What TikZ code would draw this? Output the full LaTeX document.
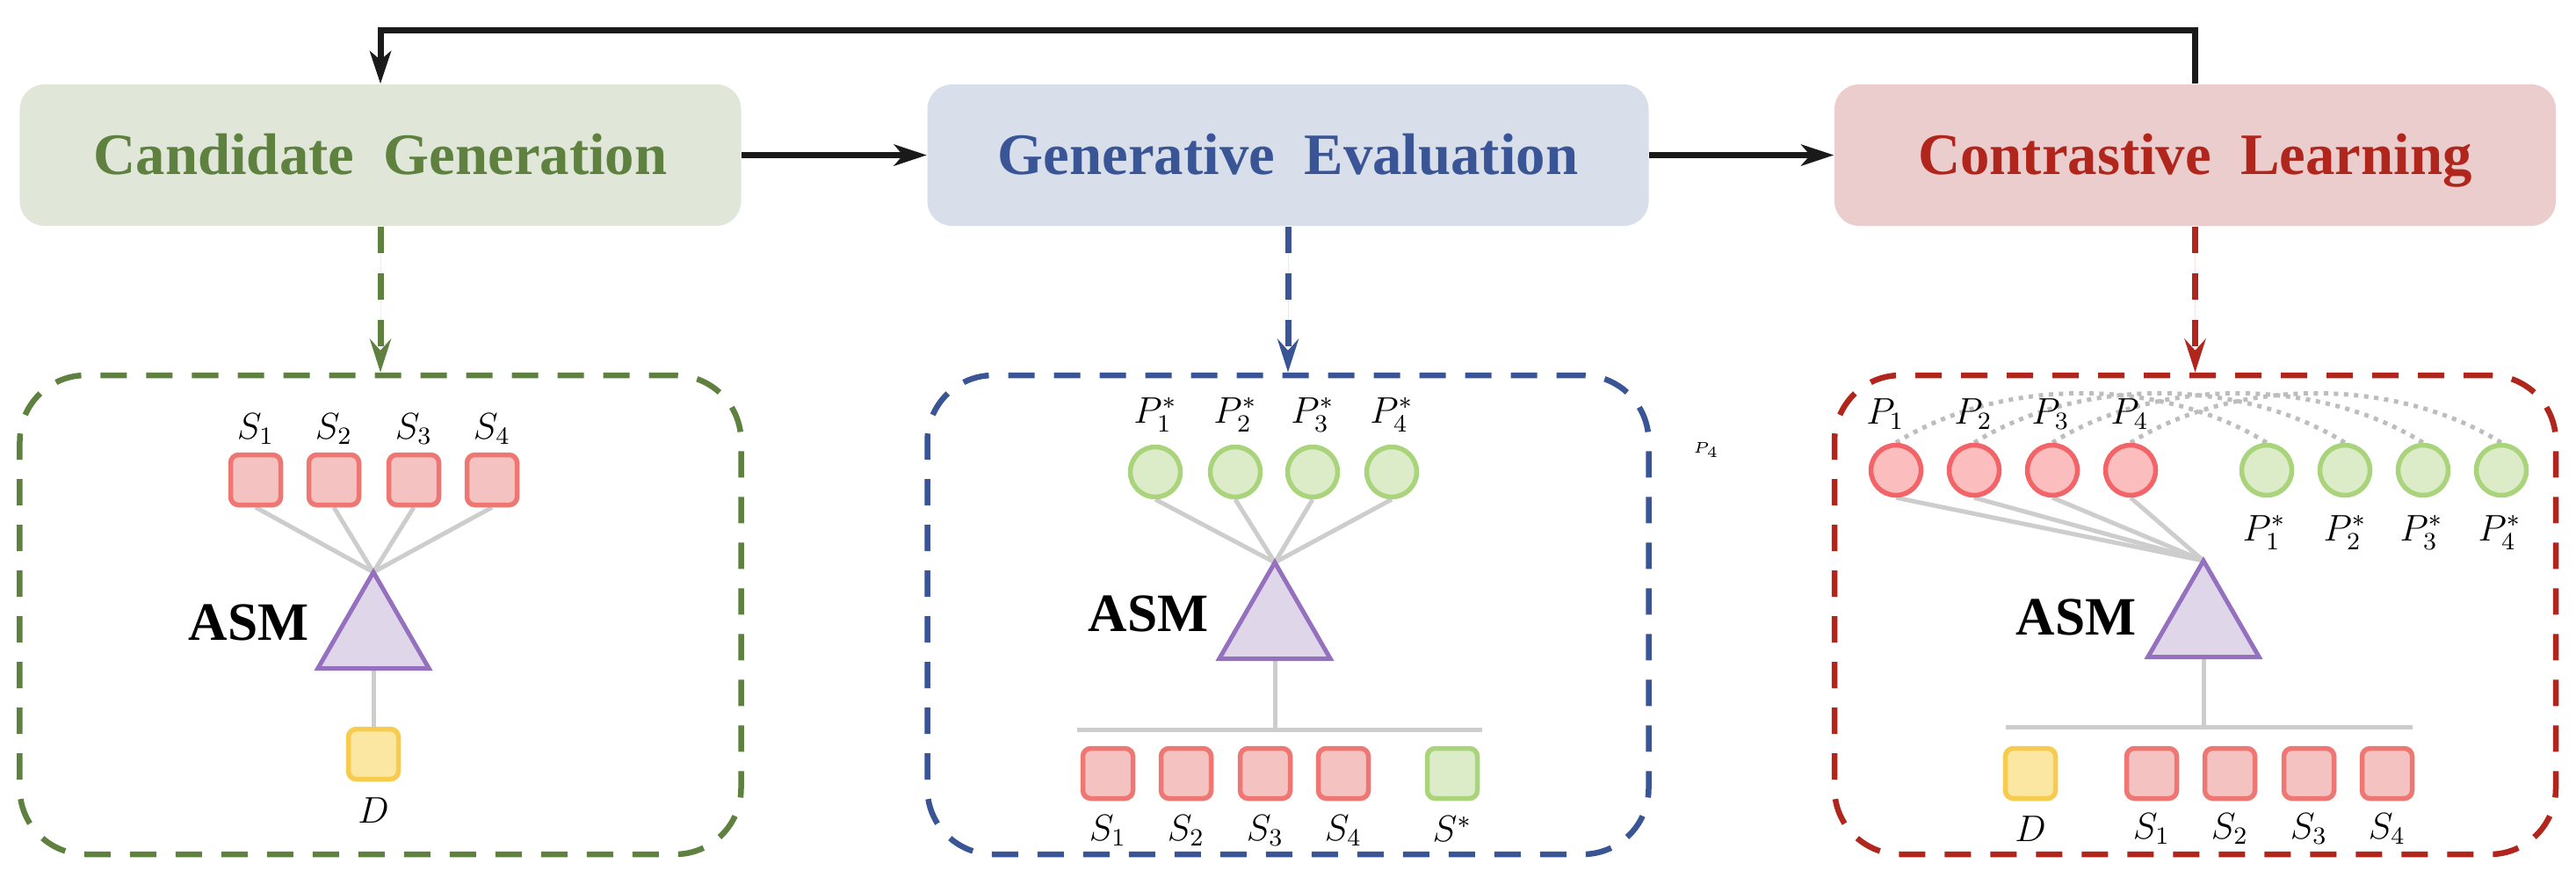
\documentclass[tikz,border=0pt]{standalone}
\usepackage{fontspec}
\setmainfont{Liberation Serif}
\usetikzlibrary{arrows.meta,shapes.geometric,backgrounds}
\definecolor{gtext}{HTML}{5E8140}
\definecolor{gfill}{HTML}{E0E6D8}
\definecolor{btext}{HTML}{3A5595}
\definecolor{bfill}{HTML}{D8DEEA}
\definecolor{rtext}{HTML}{B0261C}
\definecolor{rfill}{HTML}{EBCDCD}
\definecolor{sqdraw}{HTML}{EE7673}
\definecolor{sqfill}{HTML}{F4C2C1}
\definecolor{rcdraw}{HTML}{F26467}
\definecolor{rcfill}{HTML}{FBBDBD}
\definecolor{gcdraw}{HTML}{A9D47B}
\definecolor{gcfill}{HTML}{DCEBC8}
\definecolor{ydraw}{HTML}{F7CB4D}
\definecolor{yfill}{HTML}{FBE6A2}
\definecolor{tdraw}{HTML}{9470BF}
\definecolor{tfill}{HTML}{DFD6EA}
\definecolor{lgray}{HTML}{CDCDCD}
\definecolor{dgray}{HTML}{BDBDBD}
\definecolor{arr}{HTML}{1A1A1A}
\newfontfamily\asmfont{Liberation Serif}
\begin{document}
\begin{tikzpicture}[
  tbox/.style={rectangle, rounded corners=0.28cm, minimum width=8.21cm, minimum height=1.61cm, inner sep=0pt, font=\bfseries\fontsize{19}{22}\selectfont, text height=12.6pt, text depth=0pt},
  panel/.style={rectangle, rounded corners=0.75cm, minimum width=8.21cm, minimum height=5.45cm, inner sep=0pt, line width=0.065cm, dash pattern=on 0.3cm off 0.22cm},
  flow/.style={line width=0.07cm, draw=arr, -{Stealth[length=0.37cm,width=0.24cm,inset=0.1cm]}},
  dconn/.style={line width=0.07cm, dash pattern=on 0.3cm off 0.23cm, -{Stealth[length=0.38cm,width=0.24cm,inset=0.13cm]}},
  sq/.style={rectangle, rounded corners=0.09cm, minimum width=0.57cm, minimum height=0.57cm, inner sep=0pt, line width=0.055cm, draw=sqdraw, fill=sqfill},
  ysq/.style={sq, draw=ydraw, fill=yfill},
  gsq/.style={sq, draw=gcdraw, fill=gcfill},
  rc/.style={circle, minimum size=0.57cm, inner sep=0pt, line width=0.055cm, draw=rcdraw, fill=rcfill},
  gc/.style={rc, draw=gcdraw, fill=gcfill},
  tri/.style={regular polygon, regular polygon sides=3, minimum size=1.46cm, inner sep=0pt, outer sep=0pt, line width=0.05cm, draw=tdraw, fill=tfill},
  asm/.style={font=\asmfont\fontsize{17.5}{20}\selectfont\bfseries, inner sep=0pt},
  lab/.style={font=\fontsize{11.5}{13}\selectfont, inner sep=0pt},
  gl/.style={draw=lgray, line width=0.05cm},
  dots/.style={draw=dgray, line width=0.05cm, dash pattern=on 0.05cm off 0.065cm},
]
\useasboundingbox (0,0) rectangle (29.32,-9.98);

% top boxes
\node[tbox, fill=gfill, text=gtext] (box1) at (4.33,-1.765) {Candidate\hspace{0.5em}Generation};
\node[tbox, fill=bfill, text=btext] (box2) at (14.66,-1.765) {Generative\hspace{0.5em}Evaluation};
\node[tbox, fill=rfill, text=rtext] (box3) at (24.985,-1.765) {Contrastive\hspace{0.5em}Learning};

\draw[flow] (box1.east) -- (box2.west);
\draw[flow] (box2.east) -- (box3.west);
\draw[flow] (box3.north) -- ++(0,0.61) -| (box1.north);

% panels
\node[panel, draw=gtext] (pan1) at (4.33,-6.995) {};
\node[panel, draw=btext] (pan2) at (14.66,-6.995) {};
\node[panel, draw=rtext] (pan3) at (24.985,-6.995) {};

\draw[dconn, draw=gtext, fill=gtext] (box1.south) -- (pan1.north);
\draw[dconn, draw=btext, fill=btext] (box2.south) -- (pan2.north);
\draw[dconn, draw=rtext, fill=rtext] (box3.south) -- (pan3.north);

% ---------- panel 1 ----------
\node[sq] (a1) at (2.91,-5.46) {};
\node[sq] (a2) at (3.80,-5.46) {};
\node[sq] (a3) at (4.71,-5.46) {};
\node[sq] (a4) at (5.60,-5.46) {};
\node[lab] (la1) at (2.91,-4.88) {$S_1$};
\node[lab] (la2) at (3.80,-4.88) {$S_2$};
\node[lab] (la3) at (4.71,-4.88) {$S_3$};
\node[lab] (la4) at (5.60,-4.88) {$S_4$};
\node[tri] (t1) at (4.25,-7.24) {};
\node[asm] (asm1) at (2.83,-7.08) {ASM};
\node[ysq] (d1) at (4.25,-8.58) {};
\node[lab] (ld1) at (4.25,-9.22) {$D$};
\begin{scope}[on background layer]
\foreach \i in {1,...,4} \draw[gl] (a\i.south) -- (t1.corner 1);
\draw[gl] (t1.side 2) -- (d1.north);
\end{scope}

% ---------- panel 2 ----------
\node[gc] (b1) at (13.15,-5.37) {};
\node[gc] (b2) at (14.06,-5.37) {};
\node[gc] (b3) at (14.94,-5.37) {};
\node[gc] (b4) at (15.84,-5.37) {};
\node[lab] (lb1) at (13.15,-4.72) {$P_1^*$};
\node[lab] (lb2) at (14.06,-4.72) {$P_2^*$};
\node[lab] (lb3) at (14.94,-4.72) {$P_3^*$};
\node[lab] (lb4) at (15.84,-4.72) {$P_4^*$};
\node[tri] (t2) at (14.51,-7.13) {};
\node[asm] (asm2) at (13.07,-6.98) {ASM};
\coordinate (bar2l) at (12.26,-8.30);
\coordinate (bar2r) at (16.87,-8.30);
\node[sq] (c1) at (12.61,-8.80) {};
\node[sq] (c2) at (13.50,-8.80) {};
\node[sq] (c3) at (14.40,-8.80) {};
\node[sq] (c4) at (15.29,-8.80) {};
\node[gsq] (c5) at (16.53,-8.80) {};
\node[lab] (lc1) at (12.61,-9.45) {$S_1$};
\node[lab] (lc2) at (13.50,-9.45) {$S_2$};
\node[lab] (lc3) at (14.40,-9.45) {$S_3$};
\node[lab] (lc4) at (15.29,-9.45) {$S_4$};
\node[lab] (lc5) at (16.53,-9.43) {$S^*$};
\begin{scope}[on background layer]
\foreach \i in {1,...,4} \draw[gl] (b\i.south) -- (t2.corner 1);
\draw[gl] (bar2l) -- (bar2r);
\draw[gl] (t2.side 2) -- (t2.side 2 |- bar2l);
\end{scope}

\node[font=\fontsize{5}{6}\selectfont, inner sep=0pt] (stray) at (19.42,-5.12) {$P_4$};

% ---------- panel 3 ----------
\node[rc] (p1) at (21.58,-5.35) {};
\node[rc] (p2) at (22.47,-5.35) {};
\node[rc] (p3) at (23.36,-5.35) {};
\node[rc] (p4) at (24.25,-5.35) {};
\node[gc] (q1) at (25.80,-5.35) {};
\node[gc] (q2) at (26.69,-5.35) {};
\node[gc] (q3) at (27.58,-5.35) {};
\node[gc] (q4) at (28.47,-5.35) {};
\node[lab] (lp1) at (21.46,-4.71) {$P_1$};
\node[lab] (lp2) at (22.46,-4.71) {$P_2$};
\node[lab] (lp3) at (23.34,-4.71) {$P_3$};
\node[lab] (lp4) at (24.24,-4.71) {$P_4$};
\node[lab] (lq1) at (25.77,-6.06) {$P_1^*$};
\node[lab] (lq2) at (26.69,-6.06) {$P_2^*$};
\node[lab] (lq3) at (27.56,-6.06) {$P_3^*$};
\node[lab] (lq4) at (28.45,-6.06) {$P_4^*$};
\node[tri] (t3) at (25.08,-7.11) {};
\node[asm] (asm3) at (23.63,-7.02) {ASM};
\coordinate (bar3l) at (22.83,-8.27);
\coordinate (bar3r) at (27.46,-8.27);
\node[ysq] (e0) at (23.11,-8.80) {};
\node[sq] (e1) at (24.49,-8.80) {};
\node[sq] (e2) at (25.38,-8.80) {};
\node[sq] (e3) at (26.28,-8.80) {};
\node[sq] (e4) at (27.17,-8.80) {};
\node[lab] (le0) at (23.11,-9.43) {$D$};
\node[lab] (le1) at (24.49,-9.43) {$S_1$};
\node[lab] (le2) at (25.38,-9.43) {$S_2$};
\node[lab] (le3) at (26.28,-9.43) {$S_3$};
\node[lab] (le4) at (27.17,-9.43) {$S_4$};
\begin{scope}[on background layer]
\foreach \i in {1,...,4} \draw[gl] (p\i.south) -- (t3.corner 1);
\draw[gl] (bar3l) -- (bar3r);
\draw[gl] (t3.side 2) -- (t3.side 2 |- bar3l);
\foreach \i in {1,...,4} \draw[dots] (p\i.north) .. controls +(1.2,0.75) and +(-1.2,0.75) .. (q\i.north);
\end{scope}
\end{tikzpicture}
\end{document}
